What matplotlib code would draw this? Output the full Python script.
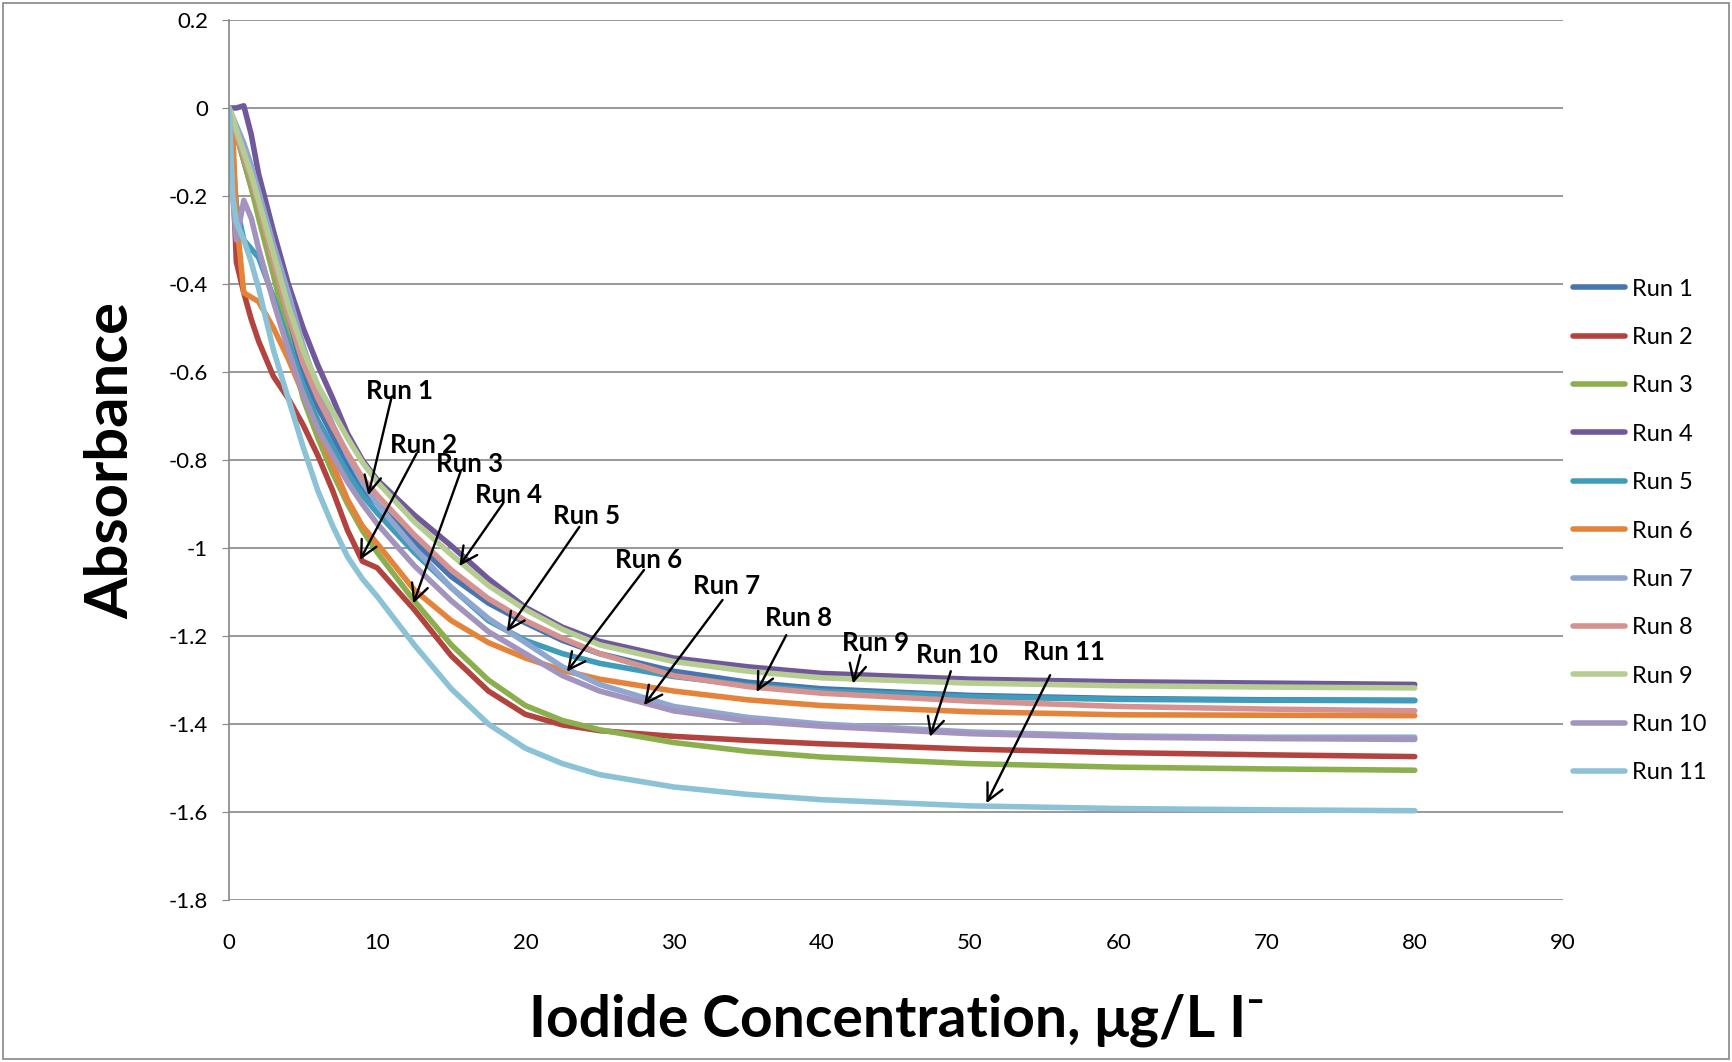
import numpy as np
import matplotlib
matplotlib.use("Agg")
import matplotlib.pyplot as plt
from matplotlib.patches import Rectangle

plt.rcParams['font.family'] = ['Lato', 'DejaVu Sans']

# iodide concentration (ug/L)
conc = [0, 0.25, 0.5, 1, 1.5, 2, 3, 4, 5, 6, 7, 8, 9, 10, 12.5, 15, 17.5,
        20, 22.5, 25, 30, 35, 40, 50, 60, 70, 80]

# absorbance of each run
run1 = [0, -0.03, -0.06, -0.12, -0.18, -0.24, -0.37, -0.49, -0.60, -0.68, -0.745, -0.81, -0.865,
        -0.90, -0.985, -1.065, -1.125, -1.17, -1.21, -1.24, -1.28, -1.305, -1.32, -1.335, -1.342, -1.345, -1.346]
run2 = [0, -0.15, -0.35, -0.42, -0.48, -0.53, -0.61, -0.66, -0.72, -0.79, -0.87, -0.96, -1.03,
        -1.045, -1.14, -1.245, -1.325, -1.378, -1.402, -1.415, -1.428, -1.437, -1.445, -1.457, -1.465, -1.47, -1.474]
run3 = [0, -0.03, -0.06, -0.12, -0.18, -0.25, -0.38, -0.52, -0.66, -0.75, -0.83, -0.90, -0.96,
        -1.01, -1.12, -1.22, -1.30, -1.358, -1.392, -1.413, -1.442, -1.462, -1.475, -1.49, -1.498, -1.502, -1.505]
run4 = [0, 0.0, 0.0, 0.005, -0.06, -0.15, -0.28, -0.40, -0.50, -0.585, -0.66, -0.74, -0.80,
        -0.845, -0.925, -0.995, -1.07, -1.135, -1.18, -1.212, -1.25, -1.27, -1.285, -1.298, -1.304, -1.307, -1.31]
run5 = [0, -0.12, -0.22, -0.30, -0.32, -0.34, -0.43, -0.53, -0.63, -0.71, -0.77, -0.83, -0.88,
        -0.92, -1.01, -1.09, -1.165, -1.21, -1.24, -1.262, -1.292, -1.312, -1.325, -1.338, -1.344, -1.346, -1.347]
run6 = [0, -0.05, -0.25, -0.42, -0.43, -0.44, -0.50, -0.57, -0.65, -0.73, -0.81, -0.89, -0.95,
        -0.99, -1.095, -1.165, -1.215, -1.25, -1.278, -1.298, -1.325, -1.345, -1.358, -1.372, -1.379, -1.38, -1.381]
run7 = [0, -0.02, -0.04, -0.08, -0.13, -0.19, -0.31, -0.42, -0.54, -0.64, -0.72, -0.79, -0.85,
        -0.90, -1.0, -1.09, -1.16, -1.215, -1.27, -1.31, -1.36, -1.385, -1.40, -1.418, -1.427, -1.43, -1.43]
run8 = [0, -0.03, -0.06, -0.11, -0.16, -0.22, -0.35, -0.47, -0.58, -0.66, -0.725, -0.785, -0.84,
        -0.88, -0.97, -1.05, -1.115, -1.165, -1.205, -1.24, -1.29, -1.315, -1.33, -1.348, -1.36, -1.366, -1.37]
run9 = [0, -0.02, -0.05, -0.10, -0.15, -0.21, -0.33, -0.45, -0.55, -0.63, -0.69, -0.75, -0.805,
        -0.85, -0.94, -1.015, -1.085, -1.14, -1.185, -1.22, -1.258, -1.28, -1.295, -1.307, -1.313, -1.316, -1.318]
run10 = [0, -0.2, -0.30, -0.21, -0.25, -0.32, -0.44, -0.55, -0.65, -0.73, -0.79, -0.85, -0.90,
         -0.945, -1.04, -1.12, -1.19, -1.24, -1.29, -1.325, -1.37, -1.393, -1.405, -1.422, -1.43, -1.433, -1.435]
run11 = [0, -0.2, -0.26, -0.30, -0.35, -0.41, -0.55, -0.66, -0.77, -0.87, -0.95, -1.02, -1.07,
         -1.11, -1.22, -1.32, -1.40, -1.455, -1.49, -1.515, -1.543, -1.56, -1.572, -1.586, -1.592, -1.595, -1.597]

runs = [run1, run2, run3, run4, run5, run6, run7, run8, run9, run10, run11]
names = ["Run %d" % (i + 1) for i in range(len(runs))]
colors = ['#4675B0', '#B3433F', '#8BAF4D', '#71589A', '#3F9DBB', '#E4843A',
          '#8FA7D0', '#D59290', '#B6CD91', '#A394BE', '#8BC2D6']

yticks = [-1.8, -1.6, -1.4, -1.2, -1, -0.8, -0.6, -0.4, -0.2, 0, 0.2]
ytick_labels = ["-1.8", "-1.6", "-1.4", "-1.2", "-1", "-0.8", "-0.6", "-0.4", "-0.2", "0", "0.2"]

# callout labels: (label x, label y, arrow tail x, tail y, arrow tip x, tip y)
callouts = [
    (11.5, -0.643, 10.98, -0.656, 9.4, -0.88),
    (13.1, -0.766, 12.66, -0.785, 8.84, -1.027),
    (16.2, -0.809, 15.63, -0.826, 12.44, -1.126),
    (18.85, -0.88, 18.5, -0.898, 15.54, -1.041),
    (24.1, -0.927, 23.64, -0.952, 18.74, -1.19),
    (28.3, -1.028, 28.0, -1.05, 22.8, -1.281),
    (33.6, -1.086, 33.3, -1.118, 28.0, -1.357),
    (38.4, -1.16, 37.6, -1.198, 35.6, -1.327),
    (43.6, -1.215, 42.6, -1.243, 42.1, -1.308),
    (49.1, -1.244, 48.7, -1.28, 47.3, -1.429),
    (56.3, -1.236, 55.4, -1.289, 51.1, -1.58),
]

fig = plt.figure(figsize=(17.32, 10.62), dpi=100)
ax = fig.add_axes([0.1322, 0.1525, 0.9024 - 0.1322, 0.9812 - 0.1525])

grey = '#868686'
for name, vals, c in zip(names, runs, colors):
    ax.plot(conc, vals, color=c, lw=4.0, label=name, solid_capstyle='round',
            solid_joinstyle='round')

for (lx, ly, tx, ty, hx, hy), name in zip(callouts, names):
    ax.annotate('', xy=(hx, hy), xytext=(tx, ty),
                arrowprops=dict(arrowstyle='->', color='black', lw=1.7,
                                mutation_scale=30, shrinkA=0, shrinkB=0))
    ax.text(lx, ly, name, ha='center', va='center', fontsize=18.5,
            fontweight='bold', color='black')

ax.set_xlim(0, 90)
ax.set_ylim(-1.8, 0.2)
ax.set_xticks(np.arange(0, 91, 10))
ax.set_yticks(yticks)
ax.set_yticklabels(ytick_labels)
ax.grid(axis='y', color=grey, lw=1.2)
ax.set_axisbelow(True)
for s in ['top', 'right', 'bottom']:
    ax.spines[s].set_visible(False)
ax.spines['left'].set_color(grey)
ax.spines['left'].set_linewidth(1.2)
ax.tick_params(axis='y', length=5, color=grey, labelsize=16, pad=10)
ax.tick_params(axis='x', length=0, labelsize=16, pad=24)

fig.text(0.064, 0.566, "Absorbance", rotation=90, ha='center', va='center',
         fontsize=43, fontweight='bold')
fig.text(0.518, 0.039, "Iodide Concentration, \u03bcg/L I\u207b", ha='center',
         va='center', fontsize=41, fontweight='bold')

ax.legend(loc='center left', bbox_to_anchor=(0.908, 0.5), bbox_transform=fig.transFigure,
          frameon=False, fontsize=17, handlelength=2.2, handletextpad=0.3,
          labelspacing=1.16, borderpad=0, borderaxespad=0)

fig.patches.append(Rectangle((0.002, 0.003), 0.996, 0.994, transform=fig.transFigure,
                             fill=False, edgecolor=grey, lw=1.2))

fig.savefig("out.png", dpi=100)
